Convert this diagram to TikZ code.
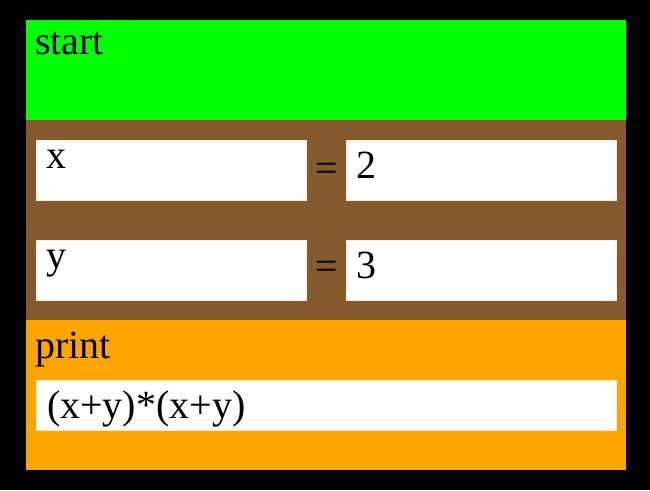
\documentclass[tikz,border=0pt]{standalone}
\usepackage{fontspec}
\setmainfont{Liberation Serif}
\definecolor{bgblack}{RGB}{0,0,0}
\definecolor{startgreen}{RGB}{0,255,0}
\definecolor{varbrown}{RGB}{133,90,46}
\definecolor{printorange}{RGB}{255,165,0}
\begin{document}
\begin{tikzpicture}[x=1pt,y=-1pt,
  panel/.style={draw=none,inner sep=0pt,outer sep=0pt,minimum width=#1},
  field/.style={fill=white,draw=white!85!orange,line width=0.6pt,inner sep=0pt,outer sep=0pt},
  label/.style={inner sep=0pt,outer sep=0pt,anchor=base west,font=\fontsize{40}{44}\selectfont},
  eqsign/.style={inner sep=0pt,outer sep=0pt,anchor=center,font=\fontsize{40}{44}\selectfont}]
\useasboundingbox (0,0) rectangle (650,490);
\fill[bgblack] (0,0) rectangle (650,490);
% panels
\node[panel=600pt,fill=startgreen,minimum height=100pt] (start) at (326,70) {};
\node[panel=600pt,fill=varbrown,minimum height=200pt] (vars) at (326,220) {};
\node[panel=600pt,fill=printorange,minimum height=150pt] (print) at (326,395) {};
% fields
\node[field,minimum width=270pt,minimum height=60pt] (xname) at (171,170) {};
\node[field,minimum width=270pt,minimum height=60pt] (xval) at (481,170) {};
\node[field,minimum width=270pt,minimum height=60pt] (yname) at (171,270) {};
\node[field,minimum width=270pt,minimum height=60pt] (yval) at (481,270) {};
\node[field,minimum width=580pt,minimum height=50pt] (expr) at (326,405) {};
% texts
\node[label] (starttext) at (35,54) {start};
\node[label] (xtext) at (46,168) {x};
\node[eqsign] (eq1) at (327,172) {=};
\node[label] (twotext) at (356,178) {2};
\node[label] (ytext) at (46,268) {y};
\node[eqsign] (eq2) at (327,270) {=};
\node[label] (threetext) at (356,278) {3};
\node[label] (printtext) at (35,358) {print};
\node[label] (exprtext) at (47,418) {(x+y)*(x+y)};
\end{tikzpicture}
\end{document}
